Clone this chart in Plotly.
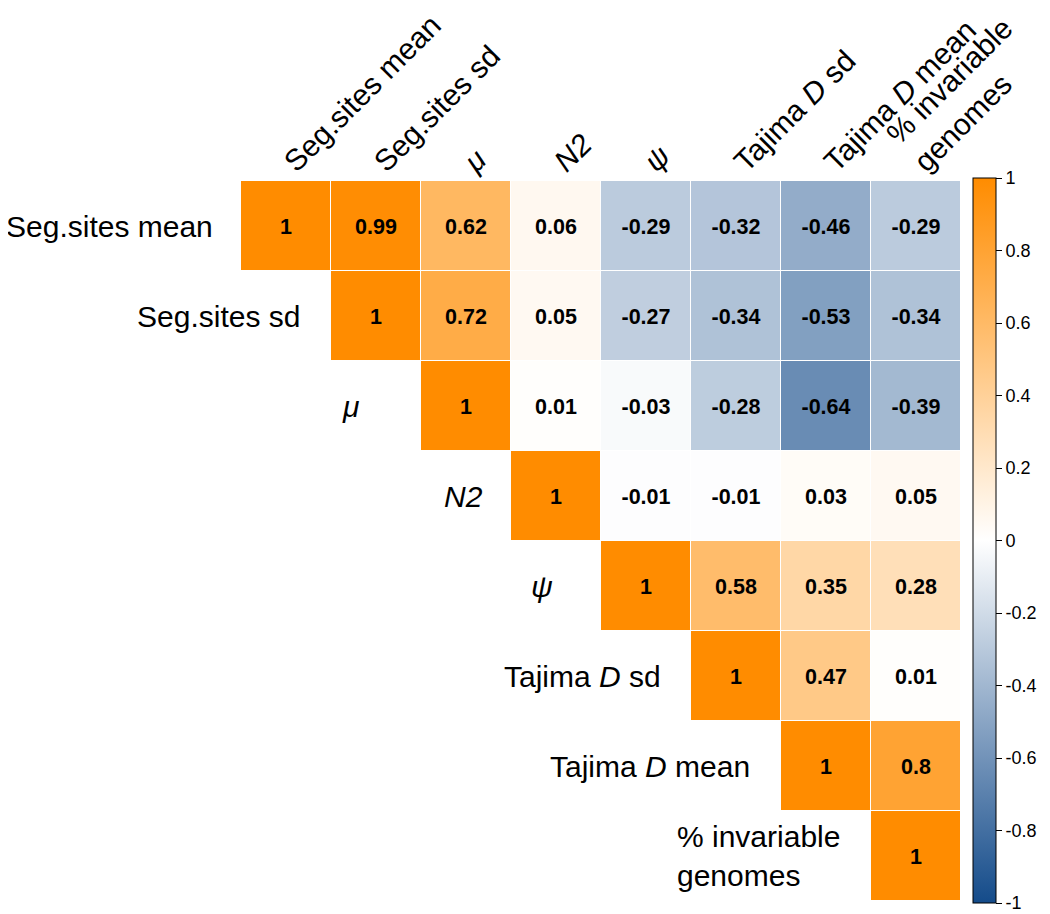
import plotly.graph_objects as go

# ---- data ----
labels = ["Seg.sites mean", "Seg.sites sd", "<i>μ</i>", "<i>N2</i>", "<i>ψ</i>",
          "Tajima <i>D</i> sd", "Tajima <i>D</i> mean", "% invariable<br>genomes"]
row0 = [1, 0.99, 0.62, 0.06, -0.29, -0.32, -0.46, -0.29]
row1 = [1, 0.72, 0.05, -0.27, -0.34, -0.53, -0.34]
row2 = [1, 0.01, -0.03, -0.28, -0.64, -0.39]
row3 = [1, -0.01, -0.01, 0.03, 0.05]
row4 = [1, 0.58, 0.35, 0.28]
row5 = [1, 0.47, 0.01]
row6 = [1, 0.8]
row7 = [1]
rows = [row0, row1, row2, row3, row4, row5, row6, row7]
cbar_ticks = [-1, -0.8, -0.6, -0.4, -0.2, 0, 0.2, 0.4, 0.6, 0.8, 1]

n = len(labels)
z = []
txt = []
for i, r in enumerate(rows):
    zr = [None] * i + list(r)
    z.append(zr)
    txt.append(["" if v is None else ("%g" % v) for v in zr])

FONT = "Liberation Sans, Arial, Helvetica, sans-serif"
colorscale = [[0.0, "#144B8A"], [0.5, "#FFFFFF"], [1.0, "#FF8C00"]]

fig = go.Figure()
fig.add_trace(go.Heatmap(
    z=z, x=list(range(n)), y=list(range(n)),
    text=txt, texttemplate="%{text}",
    textfont=dict(family=FONT, size=21.5, color="black", weight="bold"),
    colorscale=colorscale, zmin=-1, zmax=1,
    xgap=1, ygap=1, hoverongaps=False,
    colorbar=dict(
        thickness=23, thicknessmode="pixels",
        len=725, lenmode="pixels",
        x=(973 - 241) / 720, xanchor="left",
        y=(901 - 540.5) / 720, yanchor="middle",
        outlinewidth=1, outlinecolor="black",
        tickvals=cbar_ticks, ticktext=["%g" % t for t in cbar_ticks],
        ticks="outside", ticklen=6, tickcolor="black", tickwidth=1,
        tickfont=dict(family=FONT, size=18, color="black"),
        xpad=0, ypad=0,
    ),
))

# row labels next to the diagonal
extra_gap = [26, 29, 60, 26, 46, 28, 29, 29]
for i, lab in enumerate(labels):
    fig.add_annotation(
        x=i - 0.5, y=i, xref="x", yref="y", text=lab,
        showarrow=False, xanchor="right", yanchor="middle",
        xshift=-extra_gap[i], align="left",
        font=dict(family=FONT, size=30, color="black"),
    )

fig.update_layout(
    width=1050, height=914,
    margin=dict(l=233, r=97, t=173, b=21, autoexpand=False),
    paper_bgcolor="white", plot_bgcolor="white",
    xaxis=dict(range=[-0.5, n - 0.5], side="top", tickvals=list(range(n)),
               ticktext=labels, tickangle=-45, showgrid=False, zeroline=False,
               showline=False, ticks="", ticklabelstandoff=-4, automargin=False,
               tickfont=dict(family=FONT, size=30, color="black")),
    yaxis=dict(range=[n - 0.5, -0.5], showticklabels=False, showgrid=False,
               zeroline=False, showline=False, automargin=False),
    showlegend=False,
)

fig.write_html("out.html")
